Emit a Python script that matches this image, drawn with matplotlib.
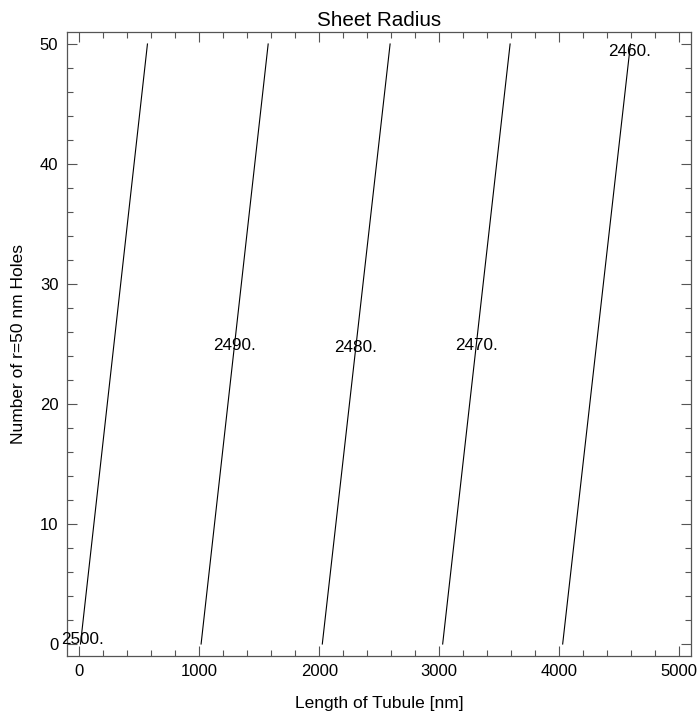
import matplotlib
matplotlib.use('Agg')
import matplotlib.pyplot as plt
from matplotlib.ticker import MultipleLocator

plt.rcParams['font.family'] = ['Liberation Sans', 'DejaVu Sans']

# contour levels of the sheet radius, with where each line meets N=0 and N=50
levels = [2500, 2490, 2480, 2470, 2460]
x_bottom = [10, 1015, 2025, 3028, 4028]
x_top = [568, 1574, 2590, 3590, 4593]
n_range = [0, 50]

# label positions (length, holes)
label_x = [25, 1296, 2300, 3306, 4585]
label_y = [0.35, 24.9, 24.7, 24.9, 49.4]

fig = plt.figure(figsize=(6.99, 7.19), dpi=100)
ax = fig.add_axes([0.0954, 0.0876, 0.8936, 0.8679])

for lev, x0, x1, lx, ly in zip(levels, x_bottom, x_top, label_x, label_y):
    ax.plot([x0, x1], n_range, color='black', lw=0.8)
    ax.text(lx, ly, '%d.' % lev, ha='center', va='center', fontsize=12.3)

ax.set_xlim(-105, 5100)
ax.set_ylim(-1, 51)
ax.xaxis.set_major_locator(MultipleLocator(1000))
ax.xaxis.set_minor_locator(MultipleLocator(200))
ax.yaxis.set_major_locator(MultipleLocator(10))
ax.yaxis.set_minor_locator(MultipleLocator(2))
ax.tick_params(which='both', direction='in', top=True, right=True,
               color='#555555', labelsize=12, pad=6)
ax.tick_params(which='major', length=7, width=0.8)
ax.tick_params(which='minor', length=4, width=0.8)
for s in ax.spines.values():
    s.set_color('#555555')
    s.set_linewidth(0.9)

ax.set_title('Sheet Radius', fontsize=14.9, pad=4)
ax.set_xlabel('Length of Tubule [nm]', fontsize=12.5, labelpad=12)
ax.set_ylabel('Number of r=50 nm Holes', fontsize=12.5, labelpad=10)

fig.savefig('out.png', dpi=100)
